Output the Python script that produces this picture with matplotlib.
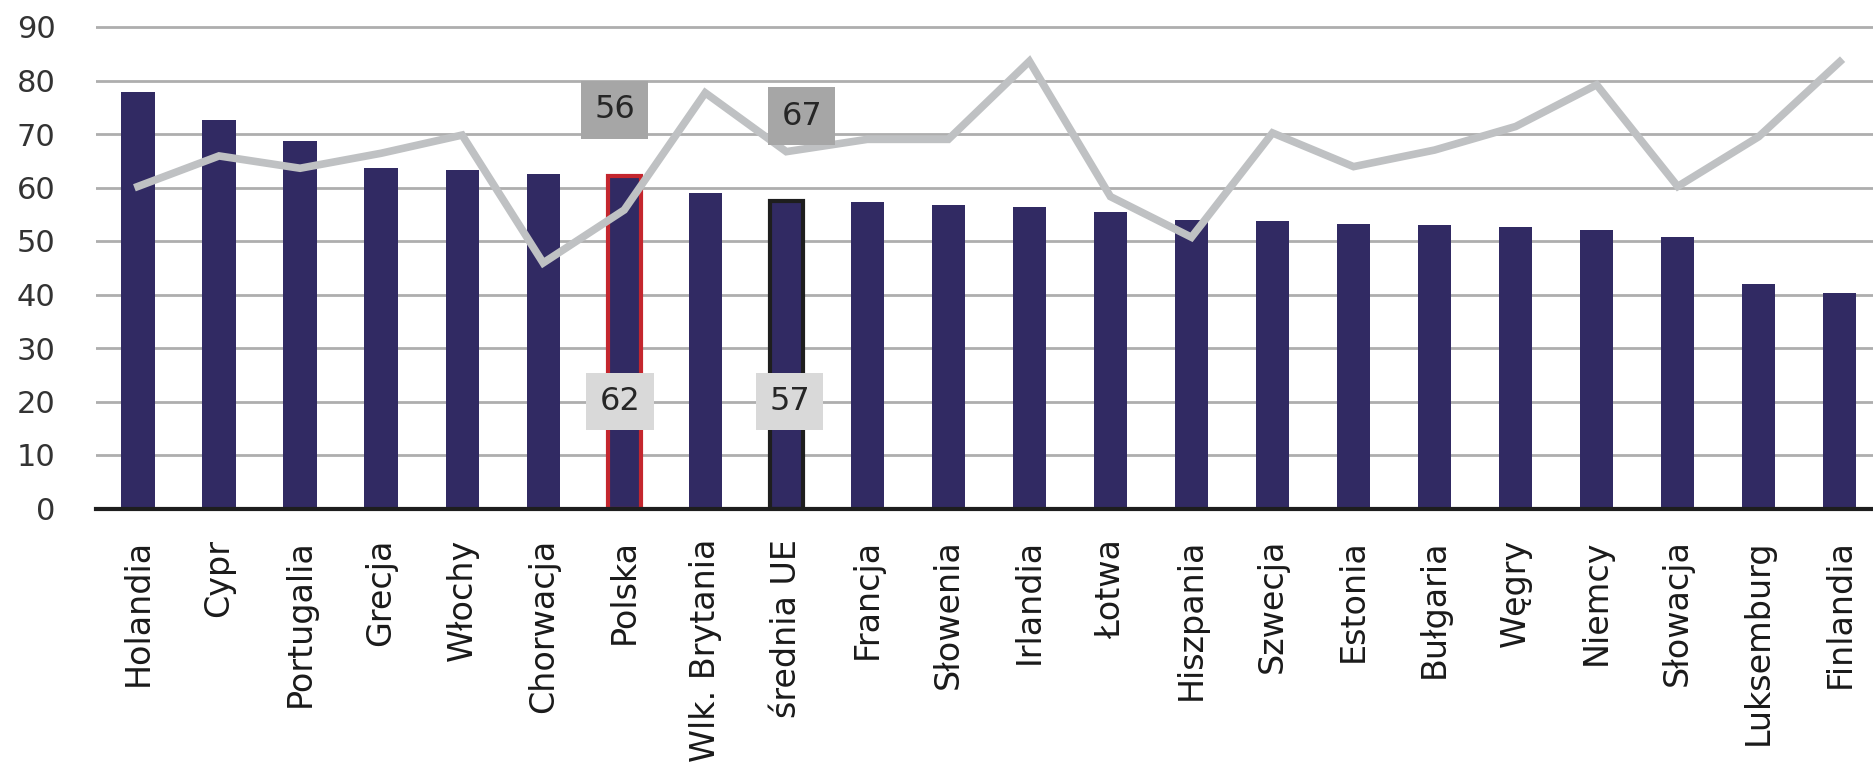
import matplotlib
matplotlib.use("Agg")
import matplotlib.pyplot as plt
import numpy as np

# data
kraje = ["Holandia", "Cypr", "Portugalia", "Grecja", "Włochy", "Chorwacja", "Polska",
         "Wlk. Brytania", "średnia UE", "Francja", "Słowenia", "Irlandia", "Łotwa",
         "Hiszpania", "Szwecja", "Estonia", "Bułgaria", "Węgry", "Niemcy", "Słowacja",
         "Luksemburg", "Finlandia"]
slupki = [77.9, 72.7, 68.7, 63.7, 63.3, 62.5, 62.2, 59.0, 57.4, 57.3, 56.8, 56.3, 55.4,
          53.9, 53.7, 53.2, 52.9, 52.7, 52.1, 50.7, 42.0, 40.2]
linia = [60.2, 65.9, 63.6, 66.4, 69.8, 45.9, 55.8, 77.7, 66.7, 69.0, 69.0, 83.6, 58.3,
         50.7, 70.2, 63.9, 67.0, 71.4, 79.2, 60.2, 69.5, 83.5]
yticks = list(range(0, 100, 10))

W, H = 1873, 771
fig = plt.figure(figsize=(W / 100, H / 100), dpi=100)
# axes placed in pixels: y=0 at 508.5 px, y=90 at 27 px
px_per_unit = (508.5 - 27) / 90
top_px = 27 - 0.5 * px_per_unit
ax = fig.add_axes([96 / W, 1 - 508.5 / H, 1 - 96 / W, (508.5 - top_px) / H])

navy = "#312a63"
x = np.arange(len(kraje))
bars = ax.bar(x, slupki, width=0.41, color=navy, zorder=2)

i_pl = kraje.index("Polska")
i_ue = kraje.index("średnia UE")
bars[i_pl].set_edgecolor("#c4262e")
bars[i_pl].set_linewidth(3)
bars[i_ue].set_edgecolor("#1e1e1e")
bars[i_ue].set_linewidth(3)

ax.plot(x, linia, color="#bfc1c3", lw=5.5, zorder=3, solid_joinstyle="miter")

ax.set_xlim(-0.518, 21.41)
ax.set_ylim(0, 90.5)
ax.set_yticks(yticks)
ax.set_yticklabels([str(t) for t in yticks], fontsize=22, color="#333333")
ax.set_xticks(x)
ax.set_xticklabels(kraje, rotation=90, fontsize=24, color="#1a1a1a")
ax.tick_params(axis="both", length=0)
ax.tick_params(axis="y", pad=29)
ax.tick_params(axis="x", pad=22)

ax.yaxis.grid(True, color="#aeaeae", lw=2, zorder=0)
ax.set_axisbelow(True)
for s in ["top", "right", "left"]:
    ax.spines[s].set_visible(False)
ax.spines["bottom"].set_color("#1e1e1e")
ax.spines["bottom"].set_linewidth(3)
ax.spines["bottom"].set_zorder(4)

# data labels
def etykieta(xx, yy, val, kolor):
    ax.text(xx, yy, f"{round(val)}", fontsize=23, color="#262626", ha="center", va="center",
            zorder=5, bbox=dict(boxstyle="square,pad=0.42", fc=kolor, ec="none"))

etykieta(i_pl - 0.12, 74.5, linia[i_pl], "#a6a6a6")
etykieta(i_ue + 0.19, 73.3, linia[i_ue], "#a6a6a6")
etykieta(i_pl - 0.05, 20.0, slupki[i_pl], "#d9d9d9")
etykieta(i_ue + 0.04, 20.0, slupki[i_ue], "#d9d9d9")

fig.savefig("out.png", dpi=100)
